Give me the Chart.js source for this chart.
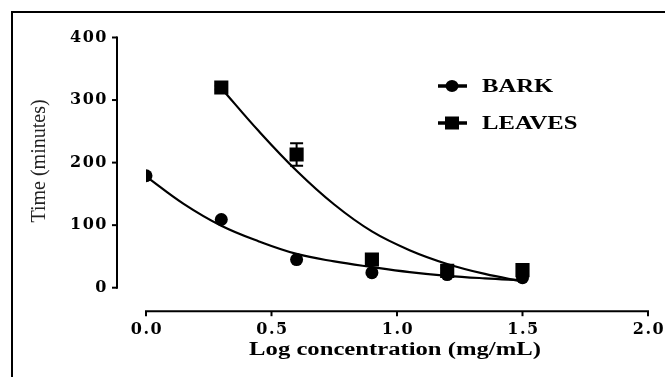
<!DOCTYPE html>
<html>
<head>
<meta charset="utf-8">
<script src="https://cdn.jsdelivr.net/npm/chart.js@4/dist/chart.umd.min.js"></script>
<style>
  html, body { margin: 0; padding: 0; background: #fff; }
  #wrap { width: 665px; height: 377px; }
</style>
</head>
<body>
<div id="wrap"><canvas id="myChart" width="665" height="377"></canvas></div>
<script>
  // measured points (log concentration vs time in minutes)
  const concs = [0.0, 0.3, 0.6, 0.9, 1.2, 1.5];
  const barkTime = [179, 109, 45, 24, 21, 16];
  const leavesConcs = [0.3, 0.6, 0.9, 1.2, 1.5];
  const leavesTime = [320, 213, 45, 27, 28];
  const leavesErr = [3, 18, 2, 4, 8];

  // fitted curves
  const barkCurveX = [0, 0.15, 0.3, 0.45, 0.6, 0.75, 0.9, 1.05, 1.2, 1.35, 1.5];
  const barkCurveY = [178, 134, 99, 74, 54, 42, 33, 25, 19, 15, 12];
  const leavesCurveX = [0.3, 0.45, 0.6, 0.75, 0.9, 1.05, 1.2, 1.35, 1.5];
  const leavesCurveY = [319, 250, 187, 133, 90, 60, 38, 22, 10];

  const legendLabels = ['BARK', 'LEAVES'];
  const xTicks = [0, 0.5, 1.0, 1.5, 2.0];
  const yTicks = [0, 100, 200, 300, 400];
  const xTitle = 'Log concentration (mg/mL)';
  const yTitle = 'Time (minutes)';

  const serif = '"Liberation Serif", "Times New Roman", serif';
  const tickFont = '"DejaVu Serif", serif';
  const stretch = 1.37; // the source picture is widened, so is its text

  function pts(xs, ys) {
    return xs.map((x, i) => ({ x: x, y: ys[i] }));
  }

  function wideText(ctx, txt, x, y) {
    ctx.save();
    ctx.translate(x, y);
    ctx.scale(stretch, 1);
    ctx.fillText(txt, 0, 0);
    ctx.restore();
  }

  // draws axes in the offset style, error bars, legend, titles and frame
  const extrasPlugin = {
    id: 'extras',
    beforeDraw(chart) {
      chart.ctx.letterSpacing = '1.5px';
    },
    afterDraw(chart) {
      const ctx = chart.ctx;
      const xs = chart.scales.x;
      const ys = chart.scales.y;
      const area = chart.chartArea;
      ctx.save();
      ctx.letterSpacing = '0px';
      ctx.strokeStyle = '#000';
      ctx.fillStyle = '#000';

      // frame
      ctx.lineWidth = 2;
      ctx.beginPath();
      ctx.moveTo(12, 377);
      ctx.lineTo(12, 12);
      ctx.lineTo(665, 12);
      ctx.stroke();

      // y axis
      const yAxisX = area.left - 29;
      ctx.beginPath();
      ctx.moveTo(yAxisX, ys.getPixelForValue(400) - 1);
      ctx.lineTo(yAxisX, ys.getPixelForValue(0) + 1);
      ctx.stroke();
      yTicks.forEach(v => {
        const py = ys.getPixelForValue(v);
        ctx.beginPath();
        ctx.moveTo(yAxisX - 5, py);
        ctx.lineTo(yAxisX, py);
        ctx.stroke();
      });

      // x axis
      const xAxisY = area.bottom + 23.5;
      ctx.beginPath();
      ctx.moveTo(xs.getPixelForValue(0) - 1, xAxisY);
      ctx.lineTo(xs.getPixelForValue(2) + 1, xAxisY);
      ctx.stroke();
      xTicks.forEach(v => {
        const px = xs.getPixelForValue(v);
        ctx.beginPath();
        ctx.moveTo(px, xAxisY);
        ctx.lineTo(px, xAxisY + 5);
        ctx.stroke();
      });

      // error bars for leaves
      leavesConcs.forEach((c, i) => {
        const px = xs.getPixelForValue(c);
        const top = ys.getPixelForValue(leavesTime[i] + leavesErr[i]);
        const bot = ys.getPixelForValue(leavesTime[i] - leavesErr[i]);
        ctx.lineWidth = 2;
        ctx.beginPath();
        ctx.moveTo(px, top); ctx.lineTo(px, bot);
        ctx.moveTo(px - 6.5, top); ctx.lineTo(px + 6.5, top);
        ctx.moveTo(px - 6.5, bot); ctx.lineTo(px + 6.5, bot);
        ctx.stroke();
      });

      // legend
      const legY = [86, 123];
      legendLabels.forEach((lab, i) => {
        const y = legY[i];
        ctx.lineWidth = 3.5;
        ctx.beginPath();
        ctx.moveTo(438, y); ctx.lineTo(467, y);
        ctx.stroke();
        if (i === 0) {
          ctx.beginPath();
          ctx.ellipse(452, y, 6.5, 6, 0, 0, Math.PI * 2);
          ctx.fill();
        } else {
          ctx.fillRect(445, y - 6.5, 14, 13);
        }
        ctx.font = 'bold 18px ' + serif;
        ctx.textAlign = 'left';
        ctx.textBaseline = 'middle';
        wideText(ctx, lab, 482, y + 1);
      });

      // axis titles
      ctx.font = 'bold 18px ' + serif;
      ctx.textAlign = 'center';
      ctx.textBaseline = 'middle';
      wideText(ctx, xTitle, (area.left + area.right) / 2 - 2, 350);

      ctx.save();
      ctx.translate(40, 161);
      ctx.rotate(-Math.PI / 2);
      ctx.font = '20px ' + serif;
      ctx.fillStyle = '#222';
      ctx.fillText(yTitle, 0, 0);
      ctx.restore();

      ctx.restore();
    }
  };

  const ctx = document.getElementById('myChart').getContext('2d');
  const chart = new Chart(ctx, {
    type: 'scatter',
    data: {
      datasets: [
        {
          type: 'line',
          label: 'bark fit',
          data: pts(barkCurveX, barkCurveY),
          borderColor: '#000',
          borderWidth: 2.2,
          pointRadius: 0,
          tension: 0.4,
          fill: false,
          order: 3
        },
        {
          type: 'line',
          label: 'leaves fit',
          data: pts(leavesCurveX, leavesCurveY),
          borderColor: '#000',
          borderWidth: 2.2,
          pointRadius: 0,
          tension: 0.4,
          fill: false,
          order: 3
        },
        {
          label: legendLabels[0],
          data: pts(concs, barkTime),
          pointStyle: 'circle',
          pointRadius: 6.5,
          backgroundColor: '#000',
          borderColor: '#000',
          borderWidth: 0,
          order: 2
        },
        {
          label: legendLabels[1],
          data: pts(leavesConcs, leavesTime),
          pointStyle: 'rect',
          pointRadius: 10,
          backgroundColor: '#000',
          borderColor: '#000',
          borderWidth: 0,
          order: 1
        }
      ]
    },
    options: {
      responsive: false,
      animation: false,
      layout: { padding: { top: 37.5, right: 17, bottom: 0, left: 0 } },
      plugins: {
        legend: { display: false },
        tooltip: { enabled: false }
      },
      scales: {
        x: {
          type: 'linear',
          min: 0,
          max: 2,
          grid: { display: false },
          border: { display: false },
          ticks: {
            stepSize: 0.5,
            padding: 25,
            labelOffset: 1,
            color: '#000',
            font: { family: tickFont, size: 16, weight: 'bold' },
            callback: v => Number(v).toFixed(1)
          },
          afterFit(scale) {
            scale.height = 89.3;
            scale.paddingLeft = 0;
            scale.paddingRight = 0;
          }
        },
        y: {
          min: 0,
          max: 400,
          grid: { display: false },
          border: { display: false },
          ticks: {
            stepSize: 100,
            padding: 30,
            color: '#000',
            font: { family: tickFont, size: 16, weight: 'bold' }
          },
          afterFit(scale) {
            scale.width = 146;
            scale.paddingTop = 0;
            scale.paddingBottom = 0;
          }
        }
      }
    },
    plugins: [extrasPlugin]
  });
</script>
</body>
</html>
